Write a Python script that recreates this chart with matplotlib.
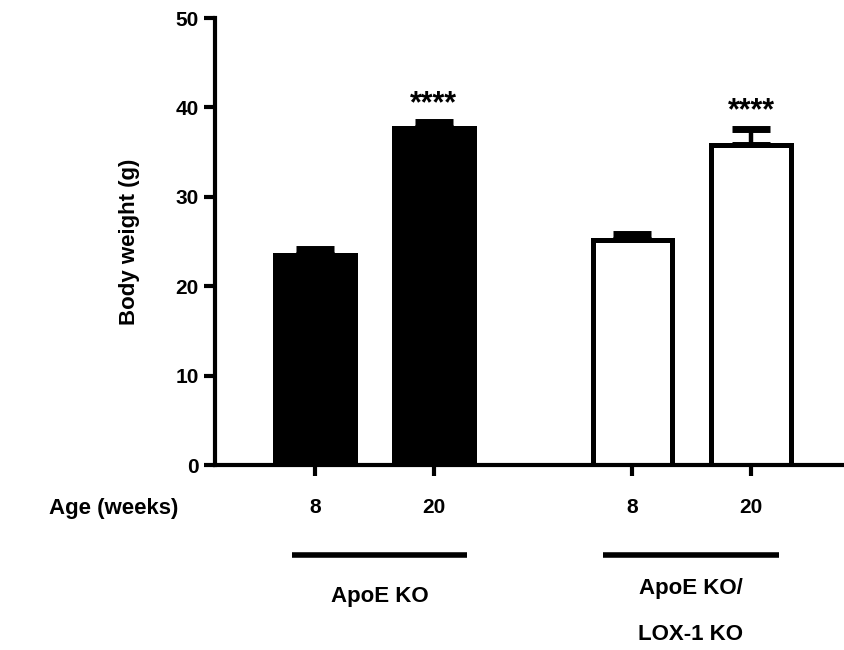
import matplotlib
matplotlib.use("Agg")
import matplotlib.pyplot as plt
import matplotlib.transforms as mtransforms

plt.rcParams['font.family'] = ['Liberation Sans', 'DejaVu Sans']
plt.rcParams['font.weight'] = 'bold'

ages = ["8", "20", "8", "20"]
groups = ["ApoE KO", "ApoE KO/\nLOX-1 KO"]
weights = [23.5, 37.7, 25.2, 35.8]
sem = [0.7, 0.7, 0.6, 1.8]
stars = ["", "****", "", "****"]
fills = ["black", "black", "white", "white"]

pos = [1.0, 2.0, 3.67, 4.67]
width = 0.67

fig = plt.figure(figsize=(8.44, 6.5), dpi=100)
ax = fig.add_axes([0.2547, 0.2846, 0.7453, 0.6877])

ax.bar(pos, weights, width=width, color=fills, edgecolor="black", linewidth=3.6, zorder=2)
ax.errorbar(pos, weights, yerr=[[0] * 4, sem], fmt="none", ecolor="black",
            elinewidth=3.2, capsize=14, capthick=5, zorder=1)

for p, w, e, s in zip(pos, weights, sem, stars):
    if s:
        ax.text(p, w + e + 1.1, s, ha="center", va="baseline", fontsize=22, fontweight="bold")

ax.set_xlim(0.16, 5.45)
ax.set_ylim(0, 50)
ax.set_yticks([0, 10, 20, 30, 40, 50])
ax.set_xticks(pos)
ax.set_xticklabels(ages)
ax.tick_params(axis="both", width=3, length=8, labelsize=15, direction="out")
ax.tick_params(axis="x", pad=16)
ax.set_ylabel("Body weight (g)", fontsize=16, fontweight="bold", labelpad=26)

for side in ["top", "right"]:
    ax.spines[side].set_visible(False)
for side in ["left", "bottom"]:
    ax.spines[side].set_linewidth(3)

trans = mtransforms.blended_transform_factory(ax.transData, ax.transAxes)
ax.text(-0.69, -0.098, "Age (weeks)", transform=trans, ha="center", va="center",
        fontsize=16, fontweight="bold", clip_on=False)

spans = [(0.81, 2.28), (3.42, 4.90)]
label_y = [-0.295, -0.328]
for (x0, x1), g, ly in zip(spans, groups, label_y):
    ax.plot([x0, x1], [-0.201, -0.201], color="black", linewidth=4, transform=trans, clip_on=False,
            solid_capstyle="butt")
    ax.text((x0 + x1) / 2, ly, g, transform=trans, ha="center", va="center",
            fontsize=16, fontweight="bold", linespacing=2.6)

fig.savefig("out.png", dpi=100)
